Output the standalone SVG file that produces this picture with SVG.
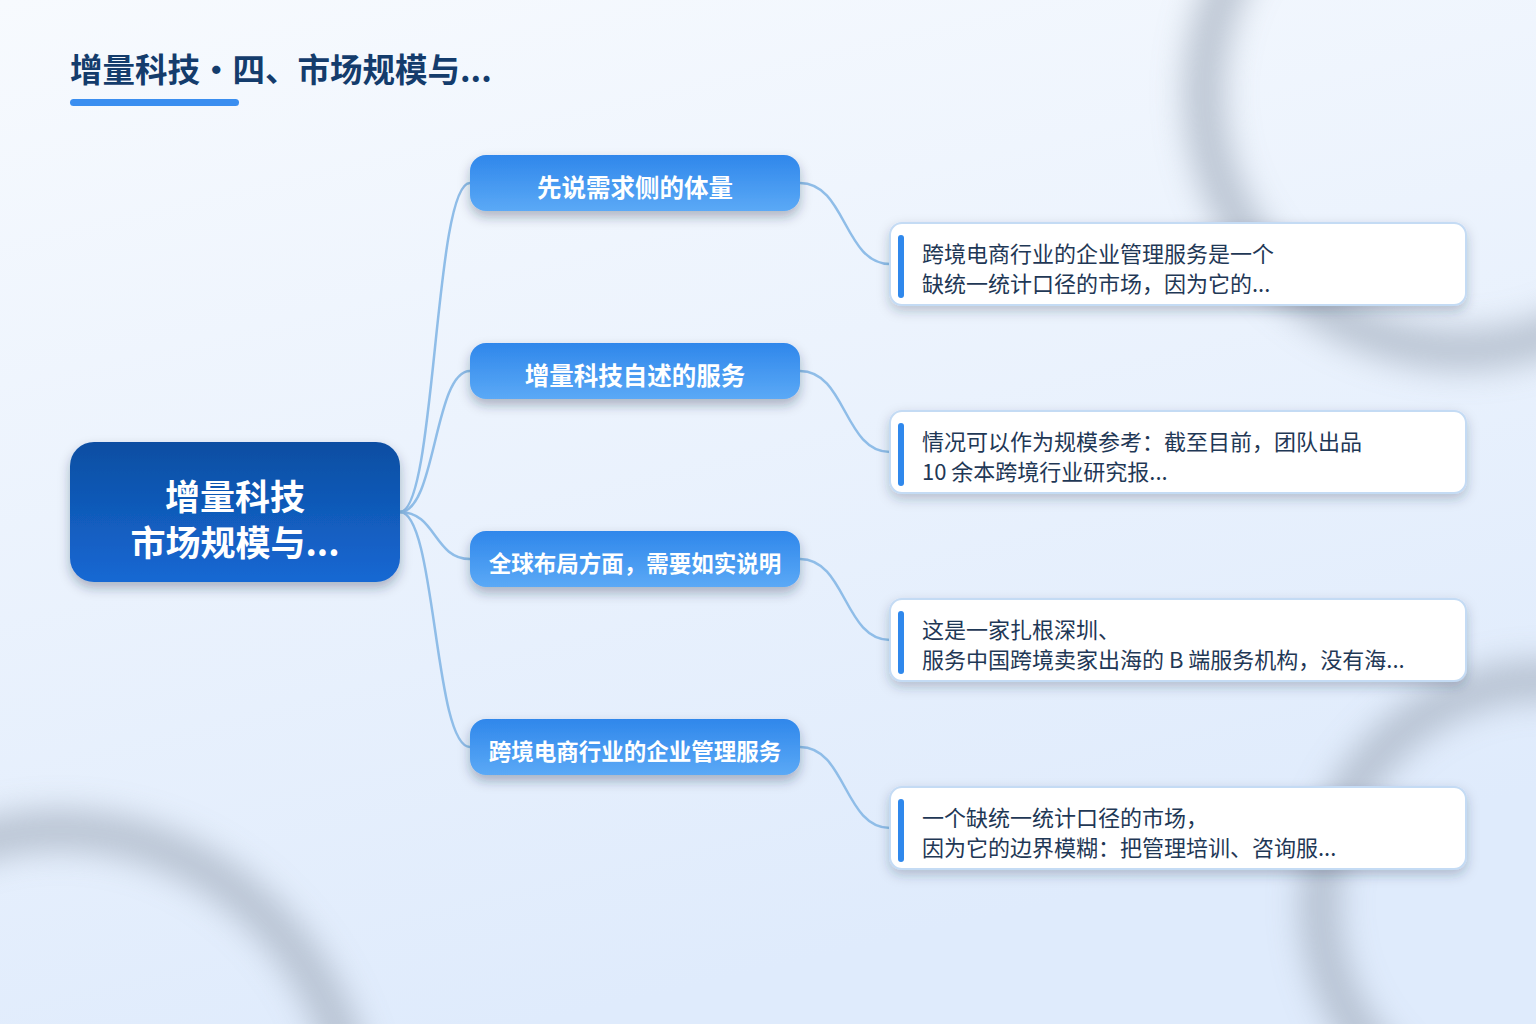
<svg xmlns="http://www.w3.org/2000/svg" width="1536" height="1024" viewBox="0 0 1536 1024">
<defs>
<linearGradient id="bg" x1="0" y1="0" x2="0.35" y2="1">
<stop offset="0" stop-color="#f7fafe"/>
<stop offset="1" stop-color="#dfebfc"/>
</linearGradient>
<linearGradient id="rootG" x1="0" y1="0" x2="0" y2="1">
<stop offset="0" stop-color="#0c4ea2"/>
<stop offset="1" stop-color="#1668d3"/>
</linearGradient>
<linearGradient id="brG" x1="0" y1="0" x2="0" y2="1">
<stop offset="0" stop-color="#2f87eb"/>
<stop offset="1" stop-color="#5ba9f6"/>
</linearGradient>
<filter id="blurRing" x="-50%" y="-50%" width="200%" height="200%">
<feGaussianBlur stdDeviation="16"/>
</filter>
<filter id="sh" x="-10%" y="-20%" width="120%" height="160%">
<feDropShadow dx="0" dy="6" stdDeviation="6" flood-color="#1a2f4a" flood-opacity="0.32"/>
</filter>
<filter id="shL" x="-10%" y="-20%" width="120%" height="160%">
<feDropShadow dx="0" dy="5" stdDeviation="6" flood-color="#1a2f4a" flood-opacity="0.25"/>
</filter>
</defs>
<style>
.ring{fill:none;stroke:#a9b4c3;stroke-width:40;opacity:0.75}
.conn{fill:none;stroke:#8fbde8;stroke-width:2.5}
.title{font-family:"Noto Sans CJK SC","Noto Sans",sans-serif;font-weight:700;font-size:32.5px;fill:#143c6c}
.rootT{font-family:"Noto Sans CJK SC","Noto Sans",sans-serif;font-weight:700;font-size:35px;fill:#ffffff}
.brT{font-family:"Noto Sans CJK SC","Noto Sans",sans-serif;font-weight:700;fill:#ffffff}
.leafT{font-family:"Noto Sans CJK SC","Noto Sans",sans-serif;font-size:22px;fill:#1f3856}
.leafBox{fill:#ffffff;stroke:#c4dbf4;stroke-width:2}
.bar{fill:#2f88ec}
</style>
<rect x="0" y="0" width="1536" height="1024" fill="url(#bg)"/>
<g id="decor">
<circle class="ring" cx="1462" cy="92" r="258" filter="url(#blurRing)"/>
<ellipse class="ring" cx="60" cy="1150" rx="300" ry="320" filter="url(#blurRing)"/>
<circle class="ring" cx="1545" cy="905" r="225" filter="url(#blurRing)"/>
</g>
<g id="title">
<text class="title" x="70" y="82">增量科技・四、市场规模与...</text>
<rect x="70" y="99" width="169" height="7" rx="3.5" fill="#3a8ef0"/>
</g>
<g id="connectors">
<path class="conn" d="M400,512 C436,512 434,183 470,183"/>
<path class="conn" d="M400,512 C436,512 434,371 470,371"/>
<path class="conn" d="M400,512 C436,512 434,559 470,559"/>
<path class="conn" d="M400,512 C436,512 434,747 470,747"/>
<path class="conn" d="M800,183 C846,183 844,264 890,264"/>
<path class="conn" d="M800,371 C846,371 844,452 890,452"/>
<path class="conn" d="M800,559 C846,559 844,640 890,640"/>
<path class="conn" d="M800,747 C846,747 844,828 890,828"/>
</g>
<g id="root">
<rect x="70" y="442" width="330" height="140" rx="24" fill="url(#rootG)" filter="url(#sh)"/>
<text class="rootT" x="235" y="510" text-anchor="middle">增量科技</text>
<text class="rootT" x="235" y="556" text-anchor="middle">市场规模与...</text>
</g>
<g id="b1">
<rect x="470" y="155" width="330" height="56" rx="16" fill="url(#brG)" filter="url(#sh)"/>
<text class="brT" x="635" y="197" font-size="24.5" text-anchor="middle">先说需求侧的体量</text>
</g>
<g id="b2">
<rect x="470" y="343" width="330" height="56" rx="16" fill="url(#brG)" filter="url(#sh)"/>
<text class="brT" x="635" y="385" font-size="24.5" text-anchor="middle">增量科技自述的服务</text>
</g>
<g id="b3">
<rect x="470" y="531" width="330" height="56" rx="16" fill="url(#brG)" filter="url(#sh)"/>
<text class="brT" x="635" y="572" font-size="22.5" text-anchor="middle">全球布局方面，需要如实说明</text>
</g>
<g id="b4">
<rect x="470" y="719" width="330" height="56" rx="16" fill="url(#brG)" filter="url(#sh)"/>
<text class="brT" x="635" y="760" font-size="22.5" text-anchor="middle">跨境电商行业的企业管理服务</text>
</g>
<g id="l1">
<rect class="leafBox" x="890" y="223" width="576" height="82" rx="12" filter="url(#shL)"/>
<rect class="bar" x="898" y="235" width="6" height="63" rx="3"/>
<text class="leafT" x="922" y="262">跨境电商行业的企业管理服务是一个</text>
<text class="leafT" x="922" y="292">缺统一统计口径的市场，因为它的...</text>
</g>
<g id="l2">
<rect class="leafBox" x="890" y="411" width="576" height="82" rx="12" filter="url(#shL)"/>
<rect class="bar" x="898" y="423" width="6" height="63" rx="3"/>
<text class="leafT" x="922" y="450">情况可以作为规模参考：截至目前，团队出品</text>
<text class="leafT" x="922" y="480">10 余本跨境行业研究报...</text>
</g>
<g id="l3">
<rect class="leafBox" x="890" y="599" width="576" height="82" rx="12" filter="url(#shL)"/>
<rect class="bar" x="898" y="611" width="6" height="63" rx="3"/>
<text class="leafT" x="922" y="638">这是一家扎根深圳、</text>
<text class="leafT" x="922" y="668">服务中国跨境卖家出海的 B 端服务机构，没有海...</text>
</g>
<g id="l4">
<rect class="leafBox" x="890" y="787" width="576" height="82" rx="12" filter="url(#shL)"/>
<rect class="bar" x="898" y="799" width="6" height="63" rx="3"/>
<text class="leafT" x="922" y="826">一个缺统一统计口径的市场，</text>
<text class="leafT" x="922" y="856">因为它的边界模糊：把管理培训、咨询服...</text>
</g>
</svg>
